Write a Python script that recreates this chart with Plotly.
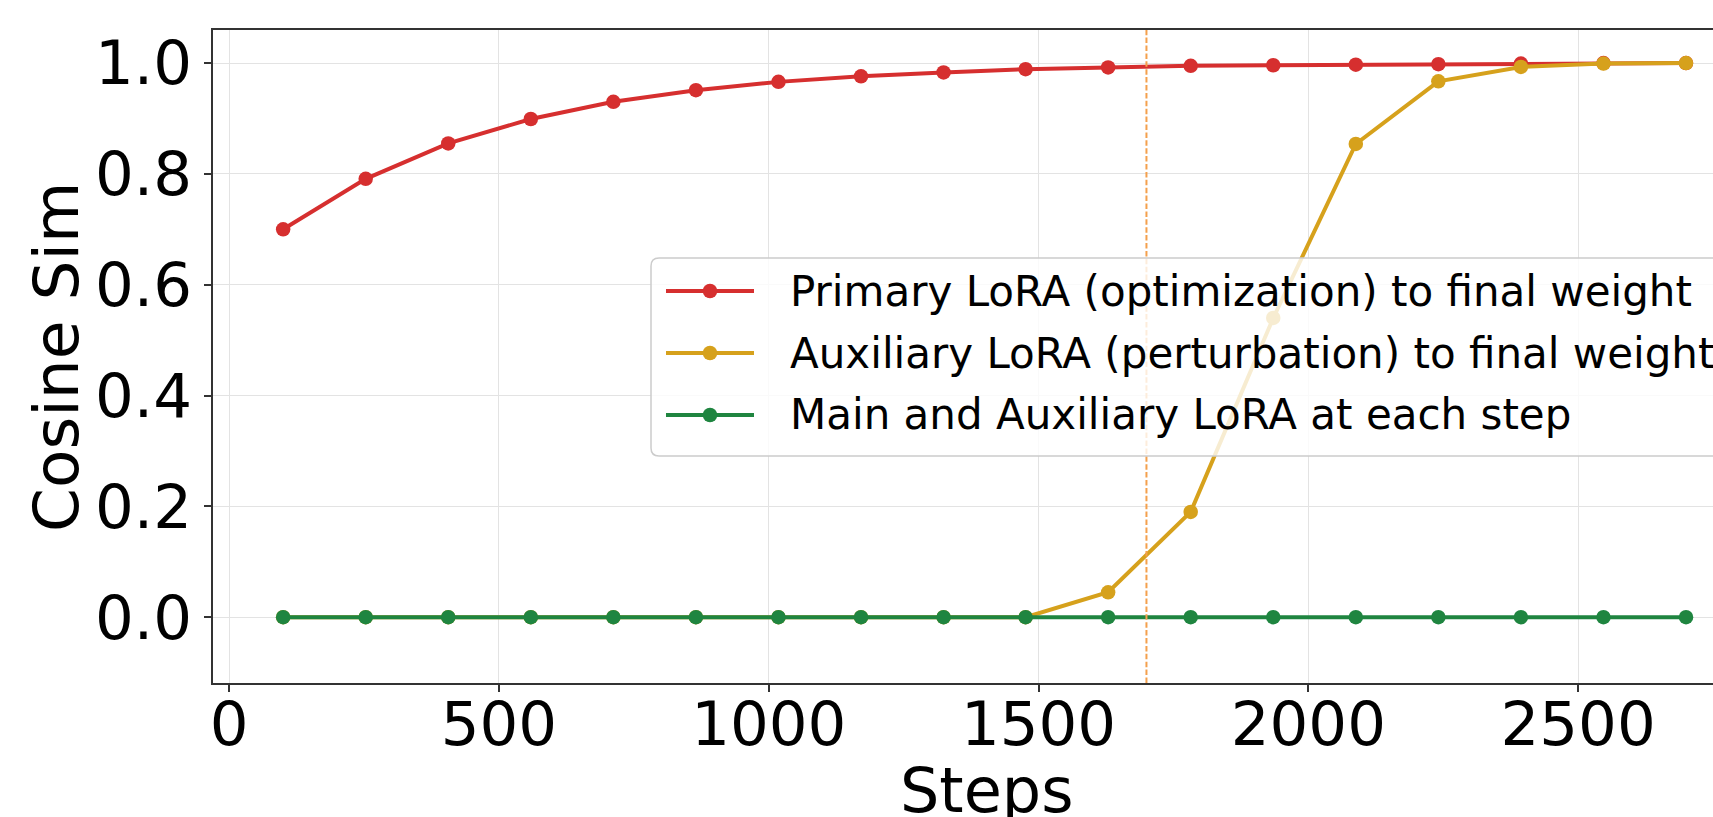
import plotly.graph_objects as go

# ---------------- data ----------------
steps = [100, 253, 406, 559, 712, 865, 1018, 1171, 1324, 1476,
         1629, 1782, 1935, 2088, 2241, 2394, 2547, 2700]
primary_to_final = [0.700, 0.791, 0.855, 0.899, 0.930, 0.951, 0.966, 0.976, 0.983,
                    0.989, 0.992, 0.995, 0.996, 0.997, 0.998, 0.999, 1.000, 1.000]
auxiliary_to_final = [0.0, 0.0, 0.0, 0.0, 0.0, 0.0, 0.0, 0.0, 0.0, 0.0,
                      0.045, 0.190, 0.540, 0.854, 0.967, 0.993, 0.999, 1.000]
main_vs_auxiliary = [0.0, 0.0, 0.0, 0.0, 0.0, 0.0, 0.0, 0.0, 0.0,
                     0.0, 0.0, 0.0, 0.0, 0.0, 0.0, 0.0, 0.0, 0.0]
series_names = ["Primary LoRA (optimization) to final weight",
                "Auxiliary LoRA (perturbation) to final weight",
                "Main and Auxiliary LoRA at each step"]
series_values = [primary_to_final, auxiliary_to_final, main_vs_auxiliary]
series_colors = ["#d62f2f", "#d6a11c", "#1f8540"]
marker_step = 1700
x_ticks = [0, 500, 1000, 1500, 2000, 2500]
y_ticks = [0.0, 0.2, 0.4, 0.6, 0.8, 1.0]

# ---------------- layout constants ----------------
W, H = 1713, 817
PL, PT, PB = 213, 30, 683
PW, PH = W - PL, PB - PT
FONT = "DejaVu Sans"
LW, MS = 4, 14.5


def xp(px):
    return (px - PL) / PW


def yp(py):
    return (PB - py) / PH


fig = go.Figure()
for name, vals, col in zip(series_names, series_values, series_colors):
    fig.add_trace(go.Scatter(
        x=steps, y=vals, mode="lines+markers", name=name,
        line=dict(color=col, width=LW),
        marker=dict(color=col, size=MS),
        showlegend=False, cliponaxis=False))

shapes = []
# vertical dashed line
shapes.append(dict(type="line", xref="x", yref="paper", x0=marker_step, x1=marker_step,
                   y0=0, y1=1, layer="above",
                   line=dict(color="#f4a04c", width=2, dash="5.5px,2.4px")))

# custom legend (matplotlib style)
LX0, LY0, LY1, LX1 = 651, 258, 456, 1900
r = 8
X0, X1 = LX0 - PL, LX1 - PL
Y0, Y1 = PB - LY1, PB - LY0  # pixel, upward
path = (f"M{X0 + r},{Y1} L{X1 - r},{Y1} Q{X1},{Y1} {X1},{Y1 - r} "
        f"L{X1},{Y0 + r} Q{X1},{Y0} {X1 - r},{Y0} L{X0 + r},{Y0} "
        f"Q{X0},{Y0} {X0},{Y0 + r} L{X0},{Y1 - r} Q{X0},{Y1} {X0 + r},{Y1} Z")
shapes.append(dict(type="path", path=path, xref="paper", yref="paper",
                   xsizemode="pixel", ysizemode="pixel", xanchor=0, yanchor=0,
                   fillcolor="rgba(255,255,255,0.8)", layer="above",
                   line=dict(color="#cccccc", width=1.5)))

annotations = []
row_y = [291, 353, 415]
for name, col, ry in zip(series_names, series_colors, row_y):
    shapes.append(dict(type="line", xref="paper", yref="paper",
                       xsizemode="pixel", ysizemode="pixel", xanchor=0, yanchor=0,
                       x0=666 - PL, x1=754 - PL, y0=PB - ry, y1=PB - ry, layer="above",
                       line=dict(color=col, width=LW)))
    shapes.append(dict(type="circle", xref="paper", yref="paper",
                       xsizemode="pixel", ysizemode="pixel", xanchor=0, yanchor=0,
                       x0=710 - MS / 2 - PL, x1=710 + MS / 2 - PL,
                       y0=PB - ry - MS / 2, y1=PB - ry + MS / 2, layer="above",
                       fillcolor=col, line=dict(color=col, width=0)))
    annotations.append(dict(text=name, xref="paper", yref="paper",
                            x=xp(788), y=yp(ry), xanchor="left", yanchor="middle",
                            showarrow=False, font=dict(family=FONT, size=42, color="black")))

# axis titles
annotations.append(dict(text="Steps", xref="paper", yref="paper", x=xp(986), y=yp(790),
                        xanchor="center", yanchor="middle", showarrow=False,
                        font=dict(family=FONT, size=62, color="black")))
annotations.append(dict(text="Cosine Sim", xref="paper", yref="paper", x=xp(57), y=yp(357),
                        xanchor="center", yanchor="middle", textangle=-90, showarrow=False,
                        font=dict(family=FONT, size=63, color="black")))

fig.update_layout(
    width=W, height=H,
    margin=dict(l=PL, r=0, t=PT, b=H - PB, autoexpand=False),
    paper_bgcolor="white", plot_bgcolor="white",
    font=dict(family=FONT, size=62, color="black"),
    shapes=shapes, annotations=annotations,
    xaxis=dict(range=[-30, 2750], tickvals=x_ticks, showgrid=True, gridcolor="#e3e3e3",
               gridwidth=1.3, zeroline=False, showline=True, linecolor="#333333",
               linewidth=1.5, mirror=True, ticks="outside", ticklen=7, tickwidth=1.5,
               tickcolor="#333333", ticklabelstandoff=-20,
               tickfont=dict(family=FONT, size=61, color="black")),
    yaxis=dict(range=[-0.1187, 1.0596], tickvals=y_ticks, tickformat=".1f", showgrid=True,
               gridcolor="#e3e3e3", gridwidth=1.3, zeroline=False, showline=True,
               linecolor="#333333", linewidth=1.5, mirror=False, ticks="outside",
               ticklen=7, tickwidth=1.5, tickcolor="#333333", ticklabelstandoff=0,
               tickfont=dict(family=FONT, size=61, color="black")),
)

fig.write_html("out.html", config={"displayModeBar": False},
               post_script="document.body.style.margin='0px';")
